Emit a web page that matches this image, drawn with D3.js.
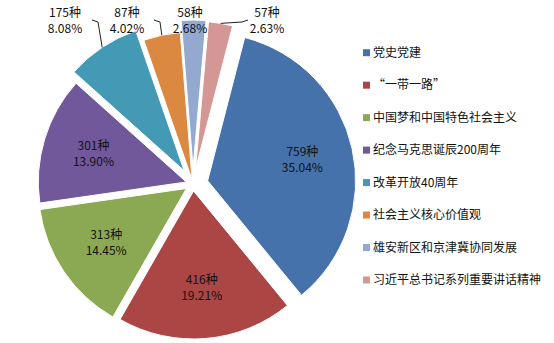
<!DOCTYPE html>
<html>
<head>
<meta charset="utf-8">
<script src="https://cdn.jsdelivr.net/npm/d3@7"></script>
<style>
  body { margin: 0; background: #fff; }
  text { font-family: "Noto Sans CJK SC", "Noto Sans", sans-serif; font-size: 12px; fill: #111; }
</style>
</head>
<body>
<div class="pie-chart"></div>
<script>
const categories = ["党史党建", "“一带一路”", "中国梦和中国特色社会主义", "纪念马克思诞辰200周年",
    "改革开放40周年", "社会主义核心价值观", "雄安新区和京津冀协同发展", "习近平总书记系列重要讲话精神"];
const counts = [759, 416, 313, 301, 175, 87, 58, 57];
const unit = "种";

const colors = ["#4672AB", "#AC4644", "#8BA952", "#71589A", "#4499B4", "#DB8840", "#94A9D0", "#D49795"];
// how far each slice is pulled out of the pie
const explode = [15, 7, 8, 7, 16, 4, 16, 15];
// labels that sit above the pie (index, label centre)
const outsideLabels = [[4, 65, 21, 1], [5, 127, 21, 1], [6, 190, 21, 0], [7, 267, 21, -1]];

const width = 554, height = 343;
const cx = 193, cy = 184, r = 148;
const total = d3.sum(counts);

const svg = d3.select('.pie-chart')
    .append('svg')
    .attr('width', width)
    .attr('height', height);

const start = 14.5 * Math.PI / 180;
const pie = d3.pie().sort(null).value(d => d)
    .startAngle(start).endAngle(start + 2 * Math.PI);
const arcs = pie(counts);

const arc = d3.arc().innerRadius(0).outerRadius(r);
const labelArc = d3.arc().innerRadius(97).outerRadius(97);

function shift(d, i) {
    const mid = (d.startAngle + d.endAngle) / 2;
    return [Math.sin(mid) * explode[i], -Math.cos(mid) * explode[i]];
}

const g = svg.append('g').attr('transform', `translate(${cx},${cy})`);

g.selectAll('.slice')
    .data(arcs)
    .enter()
    .append('path')
    .attr('class', 'slice')
    .attr('d', arc)
    .attr('fill', (d, i) => colors[i])
    .attr('stroke', '#fff')
    .attr('stroke-width', 1)
    .attr('transform', (d, i) => {
        const s = shift(d, i);
        return `translate(${s[0]},${s[1]})`;
    });

function pct(v) {
    return (v / total * 100).toFixed(2) + "%";
}

function twoLines(sel, x, y, d) {
    sel.append('text').attr('x', x).attr('y', y - 8).attr('dy', '0.35em')
        .attr('text-anchor', 'middle').text(d.data + unit);
    sel.append('text').attr('x', x).attr('y', y + 8).attr('dy', '0.35em')
        .attr('text-anchor', 'middle').text(pct(d.data));
}

// labels inside the big slices
arcs.slice(0, 4).forEach((d, i) => {
    const s = shift(d, i);
    const c = labelArc.centroid(d);
    twoLines(g, c[0] + s[0], c[1] + s[1], d);
});

// labels above the pie with leader lines
outsideLabels.forEach(o => {
    const i = o[0], d = arcs[i];
    twoLines(svg, o[1], o[2], d);
    if (o[3] === 0) return;
    const mid = (d.startAngle + d.endAngle) / 2;
    const rr = r + explode[i];
    const end = [cx + Math.sin(mid) * rr, cy - Math.cos(mid) * rr];
    const sx = o[1] + o[3] * (o[3] > 0 ? 27 : 19);
    const p0 = [sx, o[2] - 1];
    const p1 = [sx + o[3] * 6, o[2] + 1];
    svg.append('path')
        .attr('d', d3.line()([p0, p1, end]))
        .attr('fill', 'none')
        .attr('stroke', '#222')
        .attr('stroke-width', 1);
});

// legend
const legend = svg.selectAll('.legend')
    .data(categories)
    .enter()
    .append('g')
    .attr('class', 'legend')
    .attr('transform', (d, i) => `translate(363,${52.7 + i * 32.47})`);

legend.append('rect')
    .attr('x', 0)
    .attr('y', -3.5)
    .attr('width', 7)
    .attr('height', 7)
    .attr('fill', (d, i) => colors[i]);

legend.append('text')
    .attr('x', 10)
    .attr('y', 0)
    .attr('dy', '0.35em')
    .text(d => d);
</script>
</body>
</html>
